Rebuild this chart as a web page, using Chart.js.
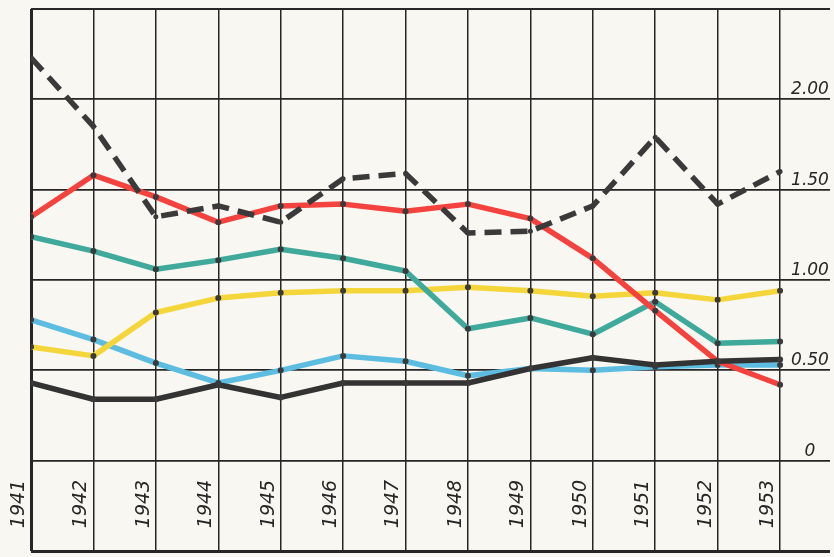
<!DOCTYPE html>
<html>
<head>
<meta charset="utf-8">
<script src="https://cdn.jsdelivr.net/npm/chart.js@4/dist/chart.umd.min.js"></script>
<style>
  html, body { margin: 0; padding: 0; background: #f8f7f1; }
  #wrap { position: relative; width: 834px; height: 557px; }
</style>
</head>
<body>
<div id="wrap"><canvas id="chart"></canvas></div>
<script>
// Годы и значения рядов.
var YEARS = [1941, 1942, 1943, 1944, 1945, 1946, 1947, 1948, 1949, 1950, 1951, 1952, 1953];
var Y_TICKS = [0, 0.5, 1, 1.5, 2];
var Y_TICK_LABELS = ['0', '0.50', '1.00', '1.50', '2.00'];

var dashedSeries = [2.23, 1.85, 1.35, 1.41, 1.32, 1.56, 1.59, 1.26, 1.27, 1.41, 1.79, 1.42, 1.60];
var redSeries    = [1.35, 1.58, 1.46, 1.32, 1.41, 1.42, 1.38, 1.42, 1.34, 1.12, 0.83, 0.55, 0.42];
var tealSeries   = [1.24, 1.16, 1.06, 1.11, 1.17, 1.12, 1.05, 0.73, 0.79, 0.70, 0.88, 0.65, 0.66];
var yellowSeries = [0.63, 0.58, 0.82, 0.90, 0.93, 0.94, 0.94, 0.96, 0.94, 0.91, 0.93, 0.89, 0.94];
var blueSeries   = [0.78, 0.67, 0.54, 0.43, 0.50, 0.58, 0.55, 0.47, 0.51, 0.50, 0.52, 0.53, 0.53];
var blackSeries  = [0.43, 0.34, 0.34, 0.42, 0.35, 0.43, 0.43, 0.43, 0.51, 0.57, 0.53, 0.55, 0.56];

var INK = '#262626';
var DOT = '#3a3a3a';

function toPoints(values) {
  return values.map(function(v, i) {
    return { x: YEARS[i], y: v };
  });
}

function lineSet(label, values, color, extra) {
  var ds = {
    label: label,
    data: toPoints(values),
    borderColor: color,
    borderWidth: 5.5,
    tension: 0,
    fill: false,
    borderCapStyle: 'round',
    borderJoinStyle: 'round',
    pointRadius: 3,
    pointBackgroundColor: DOT,
    pointBorderWidth: 0
  };
  for (var k in extra) ds[k] = extra[k];
  return ds;
}

// Подписи осей рисуем сами: годы повернуты, значения справа в последней колонке.
var labelsPlugin = {
  id: 'handLabels',
  afterDraw: function(chart) {
    var ctx = chart.ctx;
    var xs = chart.scales.x;
    var ys = chart.scales.y;
    ctx.save();
    ctx.fillStyle = INK;

    ctx.font = 'italic 17px "DejaVu Sans"';
    ctx.textAlign = 'center';
    ctx.textBaseline = 'alphabetic';
    Y_TICKS.forEach(function(v, i) {
      ctx.fillText(Y_TICK_LABELS[i], 810, ys.getPixelForValue(v) - 5);
    });

    ctx.font = 'italic 19px "DejaVu Sans"';
    ctx.textBaseline = 'middle';
    YEARS.forEach(function(year) {
      ctx.save();
      ctx.translate(xs.getPixelForValue(year) - 12, 504);
      ctx.rotate(-Math.PI / 2);
      ctx.fillText(String(year), 0, 0);
      ctx.restore();
    });
    ctx.restore();
  }
};

var chart = new Chart(document.getElementById('chart'), {
  type: 'line',
  data: {
    datasets: [
      lineSet('dashed', dashedSeries, '#3a3a3a', { borderDash: [17, 9], borderCapStyle: 'butt', pointRadius: 2.5 }),
      lineSet('black', blackSeries, '#333333', {}),
      lineSet('red', redSeries, '#f4423f', {}),
      lineSet('teal', tealSeries, '#3fa99b', {}),
      lineSet('yellow', yellowSeries, '#f4d63a', {}),
      lineSet('blue', blueSeries, '#5dbde0', {})
    ]
  },
  options: {
    responsive: true,
    maintainAspectRatio: false,
    animation: false,
    layout: { padding: { left: 31, right: 0, top: 9, bottom: 6 } },
    plugins: {
      legend: { display: false },
      tooltip: { enabled: false }
    },
    scales: {
      x: {
        type: 'linear',
        min: 1941,
        max: 1953.8,
        ticks: { display: false, stepSize: 1, includeBounds: false },
        border: { display: false },
        grid: {
          drawTicks: false,
          color: INK,
          lineWidth: function(c) { return c.tick && c.tick.value === 1941 ? 3 : 1.5; }
        }
      },
      y: {
        min: -0.5,
        max: 2.5,
        ticks: { display: false, stepSize: 0.5 },
        border: { display: false },
        grid: {
          drawTicks: false,
          color: INK,
          lineWidth: function(c) {
            if (!c.tick) return 1.5;
            if (c.tick.value === -0.5) return 3;
            if (c.tick.value === 2.5) return 2;
            return 1.7;
          }
        }
      }
    }
  },
  plugins: [labelsPlugin]
});
</script>
</body>
</html>
